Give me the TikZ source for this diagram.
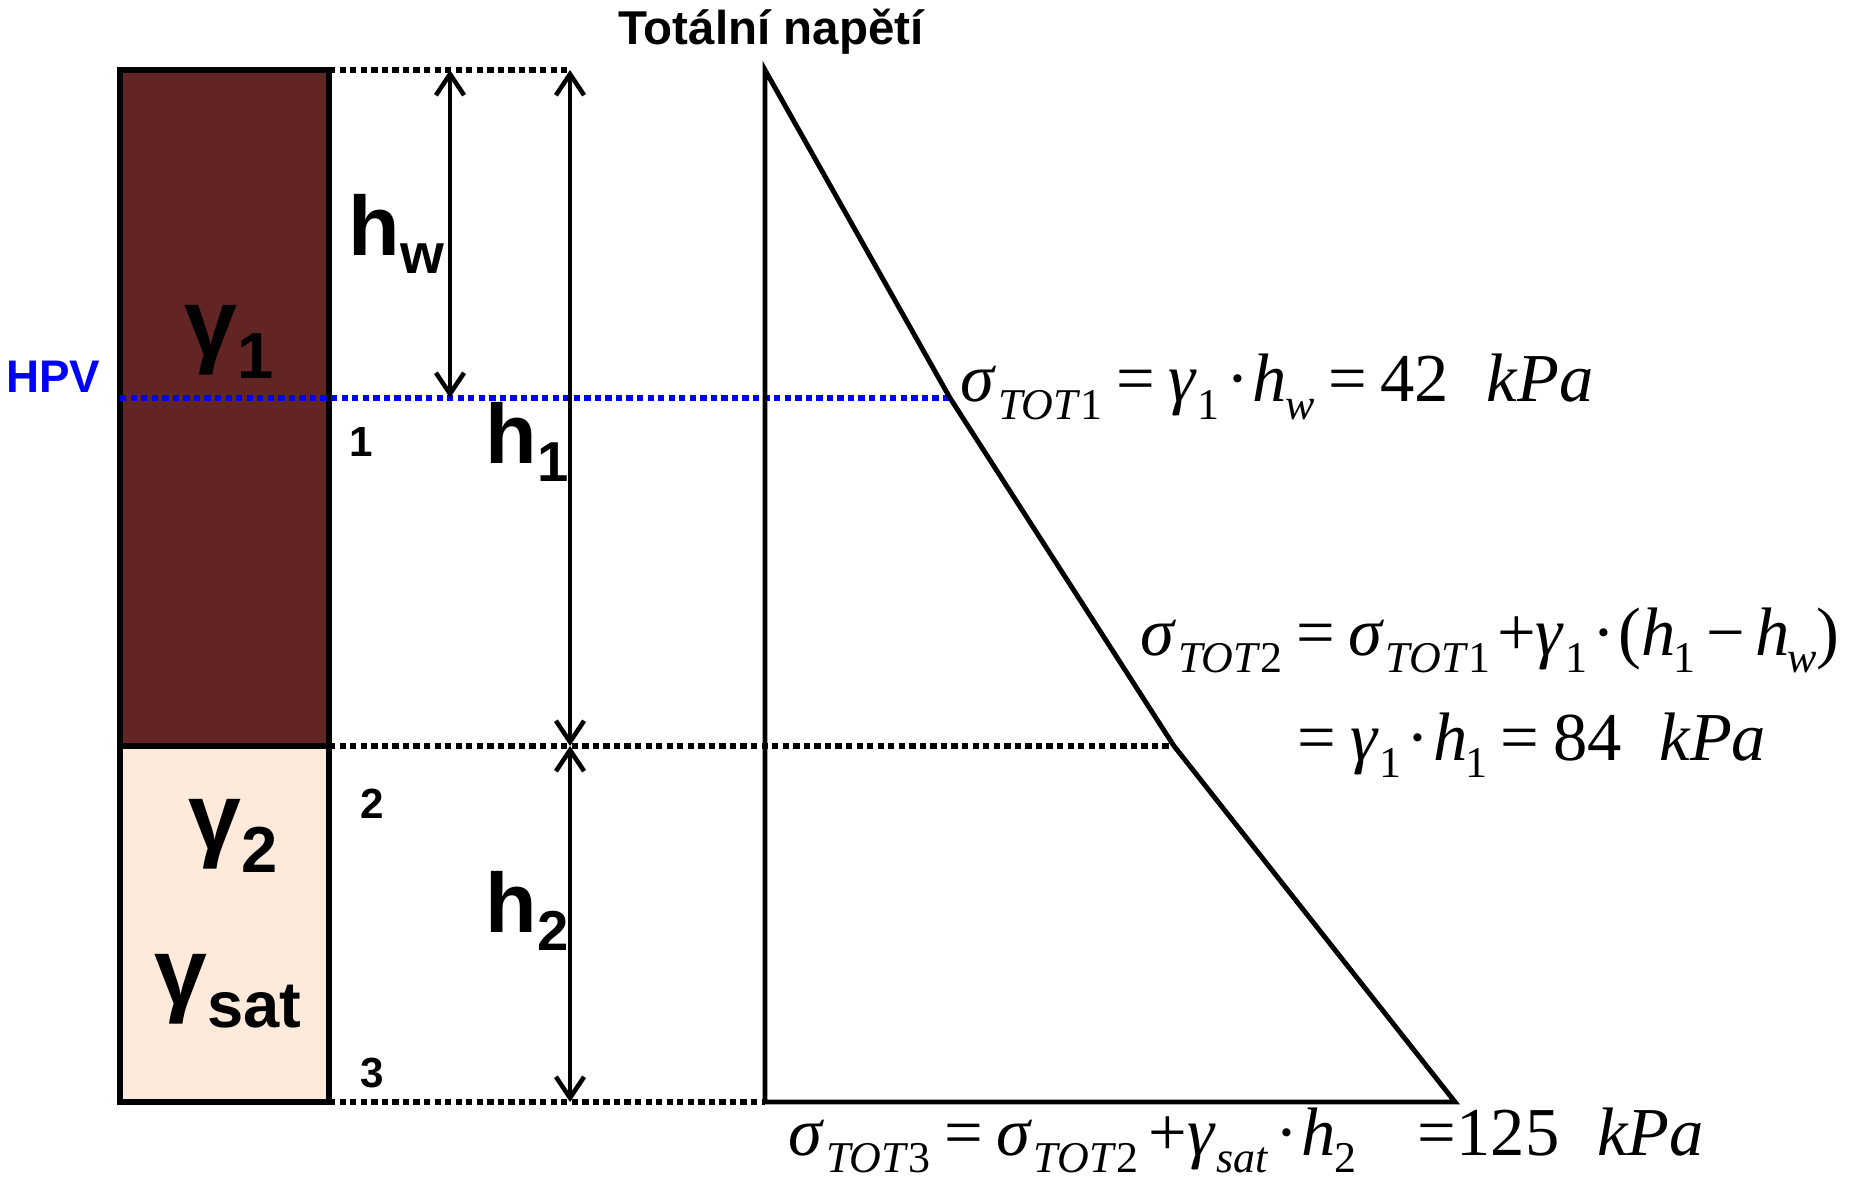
\documentclass[tikz,border=0pt]{standalone}
\usepackage{fontspec}
\setmainfont{Liberation Serif}
\newfontfamily\labfont{Liberation Sans}
\usetikzlibrary{arrows.meta}
\definecolor{soilbrown}{RGB}{99,37,35}
\definecolor{soilsand}{RGB}{253,234,218}
\definecolor{hpvblue}{RGB}{0,0,255}
\newcommand{\eqsb}[1]{\raisebox{-0.25em}{\fontsize{12.5}{15}\selectfont #1}}
\newcommand{\sig}[1]{\textit{σ}\kern0.02em\eqsb{\textit{TOT}#1}}
\newcommand{\gam}[1]{\textit{γ}\kern0.01em\eqsb{#1}}
\newcommand{\hh}[1]{\textit{h}\kern-0.03em\eqsb{#1}}
\newcommand{\eq}{\hspace{0.2em}=\hspace{0.2em}}
\newcommand{\hlab}[1]{h\raisebox{-0.22em}{\fontsize{16}{20}\selectfont #1}}
\newcommand{\glab}[1]{γ\raisebox{-0.25em}{\fontsize{18.5}{22}\selectfont #1}}

\begin{document}
\begin{tikzpicture}[
  x=0.01cm, y=-0.01cm,
  lab/.style={inner sep=0, font=\labfont\bfseries},
  eqn/.style={inner sep=0, anchor=base west, font=\fontsize{19.5}{22}\selectfont},
  dots/.style={line width=1.5pt, dash pattern=on 1.8pt off 1.2pt},
  dim/.style={line width=1.3pt, {Straight Barb[length=6pt,width=8pt]}-{Straight Barb[length=6pt,width=8pt]}},
  diag/.style={line width=1.4pt, line join=miter},
]
\useasboundingbox (0,0) rectangle (1863,1179);
\coordinate (tl) at (120,70);
\coordinate (tr) at (329,70);
\coordinate (ml) at (120,746);
\coordinate (mr) at (329,746);
\coordinate (bl) at (120,1102);
\coordinate (br) at (329,1102);
\coordinate (d0) at (765,70);
\coordinate (d1) at (950,398);
\coordinate (d2) at (1174,746);
\coordinate (d3) at (1455,1102);
\coordinate (d4) at (765,1102);
\coordinate (hpv) at (120,398);
\coordinate (w0) at (450,70);
\coordinate (w1) at (450,398);
\coordinate (a0) at (570,70);
\coordinate (a1) at (570,746);
\coordinate (a2) at (570,1102);

\filldraw[fill=soilbrown, line width=1.6pt] (tl) rectangle (mr);
\filldraw[fill=soilsand, line width=1.6pt] (ml) rectangle (br);
\draw[dots] (tr) -- (a0);
\draw[dots] (mr) -- (d2);
\draw[dots] (br) -- (d4);
\draw[dots, hpvblue] (hpv) -- (d1);
\draw[diag] (d0) -- (d1) -- (d2) -- (d3) -- (d4) -- cycle;
\draw[dim] (w0) -- (w1);
\draw[dim] (a0) -- (a1);
\draw[dim] (a1) -- (a2);

\node[lab, anchor=base, font=\labfont\bfseries\fontsize{13.5}{16}\selectfont] (title) at (771,45) {Totální napětí};
\node[lab, anchor=base, text=hpvblue, font=\labfont\bfseries\fontsize{13}{16}\selectfont] (hpvlab) at (53,393) {HPV};
\node[lab, anchor=base, font=\labfont\bfseries\fontsize{12}{14}\selectfont] (n1) at (361,456) {1};
\node[lab, anchor=base, font=\labfont\bfseries\fontsize{12}{14}\selectfont] (n2) at (372,818) {2};
\node[lab, anchor=base, font=\labfont\bfseries\fontsize{12}{14}\selectfont] (n3) at (372,1087) {3};
\node[lab, anchor=base west, font=\labfont\bfseries\fontsize{24}{28}\selectfont] (hw) at (348,255) {\hlab{w}};
\node[lab, anchor=base west, font=\labfont\bfseries\fontsize{24}{28}\selectfont] (h1) at (485,463) {\hlab{1}};
\node[lab, anchor=base west, font=\labfont\bfseries\fontsize{24}{28}\selectfont] (h2) at (485,932) {\hlab{2}};
\node[lab, anchor=base west, font=\labfont\bfseries\fontsize{27}{30}\selectfont] (g1) at (184,355) {\glab{1}};
\node[lab, anchor=base west, font=\labfont\bfseries\fontsize{27}{30}\selectfont] (g2) at (188,849) {\glab{2}};
\node[lab, anchor=base west, font=\labfont\bfseries\fontsize{27}{30}\selectfont] (gsat) at (154,1004) {\glab{sat}};

\node[eqn] (s1) at (960,402) {\sig{1}\eq\gam{1}\hspace{0.1em}·\hspace{0.05em}\hh{\textit{w}}\eq 42\hspace{0.55em}\textit{kPa}};
\node[eqn] (s2) at (1140,655) {\sig{2}\eq\sig{1}\hspace{0.1em}+\gam{1}\hspace{0.08em}·\hspace{0.05em}(\hh{1}\hspace{0.15em}−\hspace{0.15em}\hh{\textit{w}})};
\node[eqn] (s2b) at (1297,760) {=\hspace{0.2em}\gam{1}\hspace{0.08em}·\hspace{0.05em}\hh{1}\eq 84\hspace{0.55em}\textit{kPa}};
\node[eqn] (s3) at (788,1155) {\sig{3}\eq\sig{2}\hspace{0.15em}+\gam{\textit{sat}}\hspace{0.1em}·\hspace{0.05em}\hh{2}\hspace{0.9em}=125\hspace{0.55em}\textit{kPa}};
\end{tikzpicture}
\end{document}
